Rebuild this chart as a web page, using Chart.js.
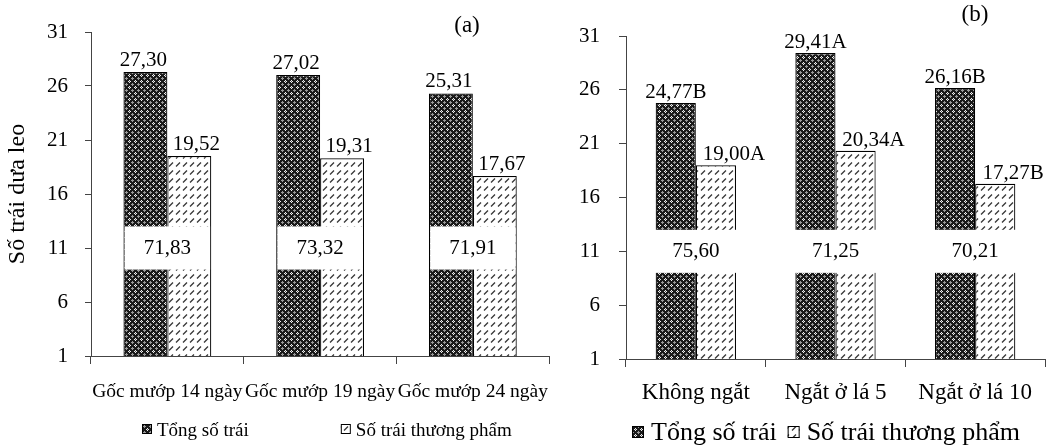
<!DOCTYPE html>
<html><head><meta charset="utf-8">
<script src="https://cdn.jsdelivr.net/npm/chart.js@4.4.0/dist/chart.umd.min.js"></script>
<style>
html,body{margin:0;padding:0;background:#fff;width:1047px;height:447px;overflow:hidden}
#wa{position:absolute;left:0;top:0;width:565px;height:447px}
#wb{position:absolute;left:560px;top:0;width:487px;height:447px}
</style></head><body>
<div id="wa"><canvas id="ca"></canvas></div>
<div id="wb"><canvas id="cb"></canvas></div>
<script>
// ---- data ----
const seriesNames = ['Tổng số trái', 'Số trái thương phẩm'];
const categoriesA = ['Gốc mướp 14 ngày', 'Gốc mướp 19 ngày', 'Gốc mướp 24 ngày'];
const totalA = [27.30, 27.02, 25.31];
const commercialA = [19.52, 19.31, 17.67];
const percentA = [71.83, 73.32, 71.91];
const categoriesB = ['Không ngắt', 'Ngắt ở lá 5', 'Ngắt ở lá 10'];
const totalB = [24.77, 29.41, 26.16];
const totalLettersB = ['B', 'A', 'B'];
const commercialB = [19.00, 20.34, 17.27];
const commercialLettersB = ['A', 'A', 'B'];
const percentB = [75.60, 71.25, 70.21];
const yTicks = [1, 6, 11, 16, 21, 26, 31];
const breakRange = [9, 13];
const yTitle = 'Số trái dưa leo';

const F = '"Liberation Serif", "Times New Roman", serif';
const fmt = v => v.toFixed(2).replace('.', ',');

function darkPattern() {
  const c = document.createElement('canvas'); c.width = 6; c.height = 6;
  const g = c.getContext('2d');
  g.fillStyle = '#1a1a1a'; g.fillRect(0, 0, 6, 6);
  g.fillStyle = '#f0f0f0';
  [[3,2],[2,3],[4,3],[3,4]].forEach(p => g.fillRect(p[0], p[1], 1, 1));
  g.fillStyle = '#9a9a9a';
  [[0,0],[1,0],[0,1],[5,0],[0,5]].forEach(p => g.fillRect(p[0], p[1], 1, 1));
  g.fillStyle = '#555';
  [[3,3]].forEach(p => g.fillRect(p[0], p[1], 1, 1));
  return g.createPattern(c, 'repeat');
}
function lightPattern() {
  const c = document.createElement('canvas'); c.width = 7; c.height = 8;
  const g = c.getContext('2d');
  g.fillStyle = '#fff'; g.fillRect(0, 0, 7, 8);
  g.strokeStyle = '#333'; g.lineWidth = 1.3;
  g.beginPath(); g.moveTo(1, 6.5); g.lineTo(5, 2.5); g.stroke();
  return g.createPattern(c, 'repeat');
}
const PD = darkPattern(), PL = lightPattern();

const decor = {
  id: 'decor',
  afterDatasetsDraw(chart, args, o) {
    const ctx = chart.ctx, y = chart.scales.y;
    const m0 = chart.getDatasetMeta(0), m1 = chart.getDatasetMeta(1);
    const yt = y.getPixelForValue(o.band[1]), yb = y.getPixelForValue(o.band[0]);
    const ym = y.getPixelForValue((o.band[0] + o.band[1]) / 2);
    ctx.save();
    m0.data.forEach((b0, i) => {
      const b1 = m1.data[i];
      const l = b0.x - b0.width / 2, r = b1.x + b1.width / 2;
      const fl = o.keepLeft ? l + o.bw : l - 1;
      const fr = o.keepRight ? r - o.bw : r + 1;
      ctx.fillStyle = '#fff';
      ctx.fillRect(fl, yt, fr - fl, yb - yt);
      ctx.fillStyle = '#000';
      ctx.font = o.font; ctx.textAlign = 'center'; ctx.textBaseline = 'middle';
      ctx.fillText(fmt(o.percent[i]), (l + r) / 2, ym);
    });
    ctx.textBaseline = 'alphabetic'; ctx.textAlign = 'center'; ctx.font = o.font; ctx.fillStyle = '#000';
    [m0, m1].forEach((m, d) => {
      m.data.forEach((b, i) => {
        const v = chart.data.datasets[d].data[i];
        const t = fmt(v) + (o.letters ? o.letters[d][i] : '');
        ctx.fillText(t, b.x + o.labelDx[d], b.y - o.labelGap);
      });
    });
    ctx.font = o.titleFont;
    ctx.fillText(o.title, o.titleX, o.titleY);
    // legend
    const L = o.legend;
    let x = L.x;
    ctx.font = L.font; ctx.textAlign = 'left';
    chart.data.datasets.forEach((ds, d) => {
      ctx.fillStyle = ds.backgroundColor;
      ctx.fillRect(x, L.yBox, L.box, L.box);
      ctx.strokeStyle = '#000'; ctx.lineWidth = 1;
      ctx.strokeRect(x + 0.5, L.yBox + 0.5, L.box - 1, L.box - 1);
      x += L.box + L.boxGap;
      ctx.fillStyle = '#000';
      ctx.fillText(ds.label, x, L.textY);
      x += ctx.measureText(ds.label).width + L.itemGap;
    });
    ctx.restore();
  }
};

function makeChart(id, cats, d0, d1, cfg) {
  return new Chart(document.getElementById(id), {
    type: 'bar',
    data: {
      labels: cats,
      datasets: [
        { label: seriesNames[0], data: d0, backgroundColor: PD, borderColor: '#000', borderWidth: 1.2,
          categoryPercentage: 0.575, barPercentage: 1 },
        { label: seriesNames[1], data: d1, backgroundColor: PL, borderColor: '#000', borderWidth: 1.2,
          categoryPercentage: 0.575, barPercentage: 1 }
      ]
    },
    plugins: [decor],
    options: {
      responsive: true, maintainAspectRatio: false, animation: false, devicePixelRatio: 1,
      layout: { padding: cfg.padding },
      plugins: { legend: { display: false }, tooltip: { enabled: false }, decor: cfg.decor },
      scales: {
        x: {
          grid: { display: true, drawOnChartArea: false, drawTicks: true, tickLength: 8, color: '#444', offset: true },
          border: { color: '#444', width: 1 },
          ticks: { color: '#000', font: { family: F, size: cfg.xFont }, padding: cfg.xPad, maxRotation: 0, minRotation: 0, autoSkip: false },
          afterFit(s) { s.height = cfg.xHeight; }
        },
        y: {
          min: yTicks[0], max: yTicks[yTicks.length - 1],
          grid: { drawOnChartArea: false, drawTicks: true, tickLength: cfg.yTick, color: '#444' },
          border: { color: '#444', width: 1 },
          ticks: { color: '#000', font: { family: F, size: 21 }, padding: cfg.yPad },
          afterBuildTicks(s) { s.ticks = yTicks.map(v => ({ value: v })); },
          title: cfg.yTitle,
          afterFit(s) { s.width = cfg.yWidth; }
        }
      }
    }
  });
}

makeChart('ca', categoriesA, totalA, commercialA, {
  padding: { top: 32, right: 6, left: 0, bottom: 0 },
  xFont: 19.5, xPad: 16, xHeight: 91, yTick: 6, yPad: 17, yWidth: 91,
  yTitle: { display: true, text: yTitle, color: '#000', font: { family: F, size: 24 }, padding: { top: 3, bottom: 0 } },
  decor: {
    band: breakRange, keepLeft: true, keepRight: true, bw: 1.2, percent: percentA,
    font: '21px ' + F, labelDx: [-2, 7], labelGap: 6, letters: null,
    title: '(a)', titleFont: '23px ' + F, titleX: 467, titleY: 32,
    legend: { x: 142, yBox: 424, box: 10, boxGap: 5, itemGap: 92, textY: 436, font: '19px ' + F }
  }
});

makeChart('cb', categoriesB, totalB, commercialB, {
  padding: { top: 36, right: 2, left: 0, bottom: 0 },
  xFont: 23, xPad: 12, xHeight: 88, yTick: 7, yPad: 19, yWidth: 66,
  yTitle: { display: false },
  decor: {
    band: breakRange, keepLeft: false, keepRight: false, bw: 1.2, percent: percentB,
    font: '21px ' + F, labelDx: [0, 18], labelGap: 5, letters: [totalLettersB, commercialLettersB],
    title: '(b)', titleFont: '23px ' + F, titleX: 415, titleY: 21,
    legend: { x: 72, yBox: 426, box: 12, boxGap: 7, itemGap: 11, textY: 440, font: '26px ' + F }
  }
});
</script>
</body></html>
